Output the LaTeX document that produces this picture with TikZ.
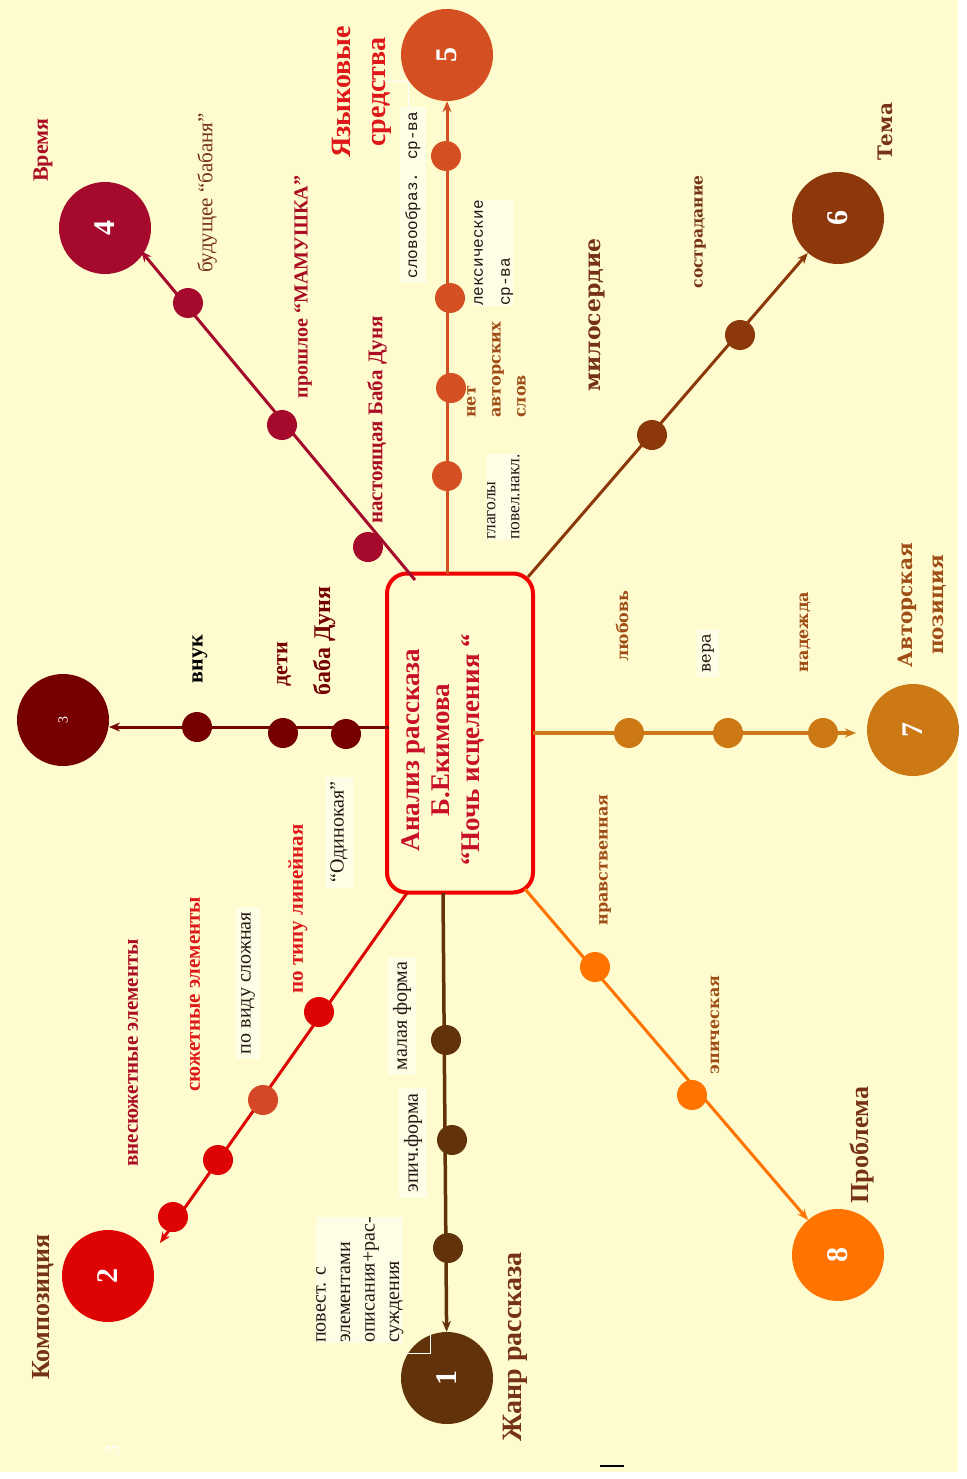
\documentclass[tikz,border=0pt]{standalone}
\usepackage{fontspec}
\setmainfont{Liberation Serif}
\newfontfamily\slab{DejaVu Serif}
\newfontfamily\cour{Liberation Mono}
\usetikzlibrary{arrows.meta}
\definecolor{bgc}{RGB}{254,252,206}
\definecolor{cA}{RGB}{98,50,10}
\definecolor{cB}{RGB}{222,4,4}
\definecolor{cBo}{RGB}{212,72,40}
\definecolor{cC}{RGB}{118,0,0}
\definecolor{cD}{RGB}{165,10,45}
\definecolor{cE}{RGB}{212,80,35}
\definecolor{cF}{RGB}{140,56,10}
\definecolor{cG}{RGB}{204,120,20}
\definecolor{cH}{RGB}{255,115,0}
\definecolor{hubred}{RGB}{240,0,0}
\definecolor{titlered}{RGB}{200,16,40}
\definecolor{tbrown}{RGB}{118,50,20}
\definecolor{tcrim}{RGB}{170,12,36}
\definecolor{tred}{RGB}{222,24,24}
\definecolor{torng}{RGB}{160,76,22}
\definecolor{tdark}{RGB}{35,22,18}
\newcommand\fsz[2]{\fontsize{#1}{#2}\selectfont}
\tikzset{
  bignum/.style={circle, minimum size=92pt, inner sep=0pt, text=white, rotate=90,
     font=\bfseries\fsz{30}{32}},
  smalldot/.style={circle, minimum size=30pt, inner sep=0pt},
  lbl/.style={rotate=90, inner sep=2pt},
  wbox/.style={fill=white, fill opacity=0.5, text opacity=1, inner sep=5pt},
  branch/.style={line width=3pt, -{Stealth[length=11pt,width=9pt]}},
}
\begin{document}
\begin{tikzpicture}[x=1pt,y=-1pt]
\useasboundingbox (0,0) rectangle (966,1479);
\fill[white] (0,0) rectangle (966,1479);
\fill[bgc] (0,0) rectangle (958,1472);

% ---------- label boxes (drawn first, under everything) ----------
\node[lbl,wbox,font=\cour\fsz{16}{19},text=tdark] (l5a) at (413,195) {словообраз. ср-ва};
\node[lbl,wbox,font=\cour\fsz{16}{27},text=tdark,align=left,anchor=north west,inner sep=0pt] (l5b) at (474,306) {лексические\\ср-ва};
\node[lbl,wbox,font=\fsz{17.5}{24},text=tdark,align=left,anchor=north west,inner sep=0pt] (l5d) at (487,540) {глаголы\\повел.накл.};
\node[lbl,wbox,font=\slab\fsz{16}{19},text=tdark] (l7b) at (708,653) {вера};
\node[lbl,wbox,font=\fsz{20}{22},text=tdark] (l1a) at (402,1016) {малая форма};
\node[lbl,wbox,font=\fsz{20}{22},text=tdark] (l1b) at (413,1143) {эпич.форма};
\node[lbl,wbox,font=\fsz{20}{24.5},text=tdark,align=left,anchor=north west,inner sep=0pt] (l1c) at (316,1343) {повест. с\\элементами\\описания+рас-\\суждения};
\node[lbl,wbox,font=\fsz{20}{22},text=tdark] (l2c) at (248,983) {по виду сложная};
\node[lbl,wbox,font=\fsz{20}{22},text=tdark] (l2e) at (339,832) {“Одинокая”};

% ---------- central box ----------
\node[draw=hubred, line width=4pt, rounded corners=20pt, fill=bgc,
      minimum width=146pt, minimum height=319pt, inner sep=0pt] (main) at (460,733) {};
\node[rotate=90, align=center, text=titlered, font=\bfseries\fsz{27}{30}] (mtext) at (443,750)
  {Анализ рассказа\\Б.Екимова\\“Ночь исцеления “};

% ---------- big circles ----------
\node[bignum, fill=cA] (c1) at (447,1378) {1};
\node[bignum, fill=cB] (c2) at (108,1276) {2};
\node[bignum, fill=cC, font=\fsz{14}{16}] (c3) at (63,720) {3};
\node[bignum, fill=cD] (c4) at (105,228) {4};
\node[bignum, fill=cE] (c5) at (447,55) {5};
\node[bignum, fill=cF] (c6) at (838,218) {6};
\node[bignum, fill=cG] (c7) at (913,730) {7};
\node[bignum, fill=cH] (c8) at (838,1255) {8};

% ---------- branch end points ----------
\coordinate (s1) at (443,893);
\coordinate (s2) at (407,893);
\coordinate (e2) at (160,1243);
\coordinate (s3) at (389,727);
\coordinate (e3) at (109,727);
\coordinate (s4) at (415,580);
\coordinate (e4) at (141,251);
\coordinate (s5) at (447,574);
\coordinate (s6) at (528,577);
\coordinate (s7) at (533,733);
\coordinate (e7) at (856,733);
\coordinate (s8) at (525,889);

% ---------- branches ----------
\draw[branch, cA, line width=3.5pt] (s1) -- (c1);
\draw[branch, cB] (s2) -- (e2);
\draw[branch, cC] (s3) -- (e3);
\draw[branch, cD] (s4) -- (e4);
\draw[branch, cE] (s5) -- (c5);
\draw[branch, cF] (s6) -- (c6);
\draw[branch, cG, line width=4pt] (s7) -- (e7);
\draw[branch, cH] (s8) -- (c8);

% ---------- small dots ----------
\node[smalldot, fill=cA] (d1a) at (446,1040) {};
\node[smalldot, fill=cA] (d1b) at (452,1140) {};
\node[smalldot, fill=cA] (d1c) at (448,1248) {};
\node[smalldot, fill=cB] (d2a) at (319,1012) {};
\node[smalldot, fill=cBo] (d2b) at (263,1100) {};
\node[smalldot, fill=cB] (d2c) at (218,1160) {};
\node[smalldot, fill=cB] (d2d) at (173,1217) {};
\node[smalldot, fill=cC] (d3a) at (346,734) {};
\node[smalldot, fill=cC] (d3b) at (283,733) {};
\node[smalldot, fill=cC] (d3c) at (197,727) {};
\node[smalldot, fill=cD] (d4a) at (368,547) {};
\node[smalldot, fill=cD] (d4b) at (282,425) {};
\node[smalldot, fill=cD] (d4c) at (188,303) {};
\node[smalldot, fill=cE] (d5a) at (447,476) {};
\node[smalldot, fill=cE] (d5b) at (451,388) {};
\node[smalldot, fill=cE] (d5c) at (450,298) {};
\node[smalldot, fill=cE] (d5d) at (446,156) {};
\node[smalldot, fill=cF] (d6a) at (652,435) {};
\node[smalldot, fill=cF] (d6b) at (740,335) {};
\node[smalldot, fill=cG] (d7a) at (629,733) {};
\node[smalldot, fill=cG] (d7b) at (728,733) {};
\node[smalldot, fill=cG] (d7c) at (823,733) {};
\node[smalldot, fill=cH] (d8a) at (595,967) {};
\node[smalldot, fill=cH] (d8b) at (692,1095) {};

% white box corners over circles
\draw[white, line width=0.8pt] (381,81) -- (408,81) -- (408,108);
\draw[white, line width=0.8pt] (407,1353) -- (430,1353) -- (430,1333);

% ---------- labels ----------
% branch 4 (time)
\node[lbl, text=tcrim, font=\bfseries\fsz{22}{24}] (t4) at (43,150) {Время};
\node[lbl, text=tbrown, font=\fsz{21}{24}] (l4c) at (207,193) {будущее “бабаня”};
\node[lbl, text=tcrim, font=\bfseries\fsz{20}{24}] (l4b) at (303,287) {прошлое “МАМУШКА”};
\node[lbl, text=tcrim, font=\bfseries\fsz{21}{24}] (l4a) at (377,420) {настоящая Баба Дуня};
% branch 5
\node[lbl, text=tred, align=center, font=\bfseries\fsz{28}{35}] (t5) at (362,92) {Языковые\\средства};
\node[lbl, text=torng, align=left, anchor=north west, inner sep=0pt, font=\slab\bfseries\fsz{16}{25}] (l5c) at (467,418) {нет\\авторских\\слов};
% branch 6
\node[lbl, text=tbrown, font=\slab\bfseries\fsz{22}{24}] (l6a) at (597,315) {милосердие};
\node[lbl, text=tbrown, font=\slab\bfseries\fsz{15.5}{18}] (l6b) at (700,232) {сострадание};
\node[lbl, text=tbrown, font=\slab\bfseries\fsz{20}{22}] (t6) at (885,132) {Тема};
% branch 7
\node[lbl, text=torng, font=\slab\bfseries\fsz{16}{19}] (l7a) at (622,626) {любовь};
\node[lbl, text=torng, font=\slab\bfseries\fsz{16}{19}] (l7c) at (805,632) {надежда};
\node[lbl, text=torng, align=center, font=\slab\bfseries\fsz{20}{31}] (t7) at (922,605) {Авторская\\позиция};
% branch 8
\node[lbl, text=torng, font=\slab\bfseries\fsz{16}{19}] (l8a) at (605,860) {нравственная};
\node[lbl, text=torng, font=\slab\bfseries\fsz{16}{19}] (l8b) at (715,1025) {эпическая};
\node[lbl, text=tbrown, font=\bfseries\fsz{26}{28}] (t8) at (862,1145) {Проблема};
% branch 1
\node[lbl, text=tbrown, font=\bfseries\fsz{28}{30}] (t1) at (515,1347) {Жанр рассказа};
% branch 2
\node[lbl, text=tbrown, font=\bfseries\fsz{26}{28}] (t2) at (43,1307) {Композиция};
\node[lbl, text=tcrim, font=\bfseries\fsz{21}{24}] (l2a) at (133,1053) {внесюжетные элементы};
\node[lbl, text=tred, font=\bfseries\fsz{21}{24}] (l2b) at (195,994) {сюжетные элементы};
\node[lbl, text=tred, font=\bfseries\fsz{21}{24}] (l2d) at (298,909) {по типу линейная};
% branch 3
\node[lbl, text=cC, font=\bfseries\fsz{24}{26}] (l3a) at (324,641) {баба Дуня};
\node[lbl, text=cC, font=\bfseries\fsz{22}{24}] (l3b) at (284,664) {дети};
\node[lbl, text=black, font=\bfseries\fsz{22}{24}] (l3c) at (200,659) {внук};

% faint marks
\node[lbl, text=white, font=\fsz{20}{22}] (m1) at (112,1450) {3};
\draw[black, line width=1.5pt] (600,1466) -- (624,1466);
\end{tikzpicture}
\end{document}
